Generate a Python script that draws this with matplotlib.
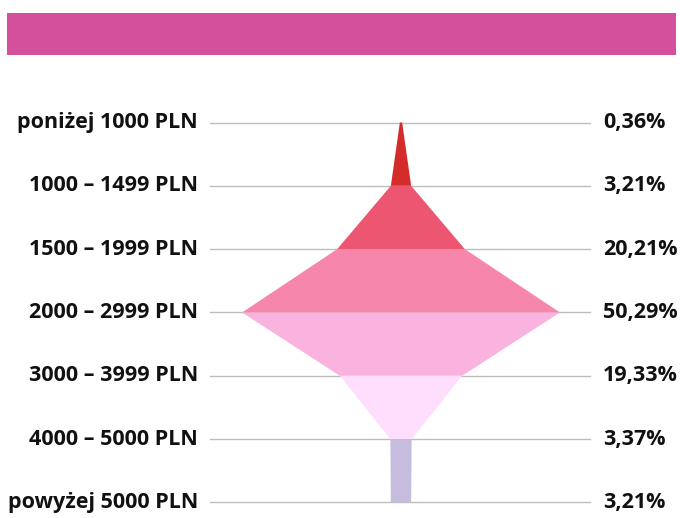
import matplotlib
matplotlib.use("Agg")
import matplotlib.pyplot as plt
from matplotlib.patches import Rectangle

categories = ["poniżej 1000 PLN", "1000 – 1499 PLN", "1500 – 1999 PLN", "2000 – 2999 PLN",
              "3000 – 3999 PLN", "4000 – 5000 PLN", "powyżej 5000 PLN"]
values = [0.36, 3.21, 20.21, 50.29, 19.33, 3.37, 3.21]
value_labels = ["0,36%", "3,21%", "20,21%", "50,29%", "19,33%", "3,37%", "3,21%"]
seg_colors = ["#D42B2B", "#EC5670", "#F786AC", "#FAB2DE", "#FEDEFC", "#C6BCDD"]

W, H = 680, 518
fig = plt.figure(figsize=(W / 100, H / 100), dpi=100)
ax = fig.add_axes([0, 0, 1, 1])
pxper = 6.32
cx = 401
y0, dy = 122.5, 63.33
ax.set_xlim(-cx / pxper, (W - cx) / pxper)
ax.set_ylim((H - y0) / dy, -y0 / dy)
ax.axis("off")

# header bar
ax.add_patch(Rectangle((7 / W, 1 - 55 / H), (676 - 7) / W, 42 / H,
                       transform=ax.transAxes, color="#D44F9C", lw=0))

n = len(values)
for i in range(n):
    ax.plot([210 / W, 590 / W], [i, i], color="#BDBDBD", lw=1,
            transform=ax.get_yaxis_transform(), zorder=1)
    ax.text(198 / W, i, categories[i], transform=ax.get_yaxis_transform(),
            ha="right", va="center", fontsize=15.5, fontweight="bold",
            family="Open Sans", color="#111111")
    ax.text(603 / W, i, value_labels[i], transform=ax.get_yaxis_transform(),
            ha="left", va="center", fontsize=15.5, fontweight="bold",
            family="Open Sans", color="#111111")

for i in range(n - 1):
    a, b = values[i] / 2, values[i + 1] / 2
    ax.fill([-a, a, b, -b], [i, i, i + 1, i + 1], color=seg_colors[i], lw=0, zorder=2)

fig.savefig("out.png", dpi=100)
